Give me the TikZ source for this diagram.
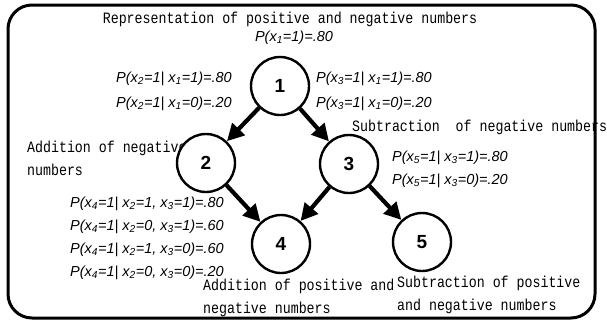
\documentclass[tikz,border=0pt]{standalone}
\usepackage{fontspec}
\setmainfont{Liberation Mono}
\newfontfamily\capfont[FakeStretch=0.84]{Liberation Mono}
\newfontfamily\probfont{Liberation Sans}
\usetikzlibrary{arrows.meta}
\newcommand{\xs}[1]{x\textsubscript{#1}}

\begin{document}
\begin{tikzpicture}[x=1pt, y=-1pt,
    state/.style={circle, minimum size=58pt, inner sep=0pt, draw=black, line width=2.4pt, fill=white, font=\probfont\fontsize{19}{19}\selectfont\bfseries},
    prob/.style={anchor=west, inner sep=0pt, font=\probfont\itshape\fontsize{14.5}{16}\selectfont},
    caption/.style={anchor=west, inner sep=0pt, align=left, font=\capfont\fontsize{15.8}{23}\selectfont},
    arrow/.style={line width=4.2pt, -{Triangle[length=17pt, width=17pt]}},
    frame/.style={line width=3pt, rounded corners=24pt}
]
    \useasboundingbox (0,0) rectangle (607,324);

    % Texts first, the circles are filled white and lie on top
    \node[caption, anchor=center] (t_rep) at (290,19) {Representation of positive and negative numbers};
    \node[prob, anchor=center] (p_one) at (294,38) {P(\xs{1}=1)=.80};

    \node[prob, anchor=east] (p_two_a) at (232,79) {P(\xs{2}=1| \xs{1}=1)=.80};
    \node[prob, anchor=east] (p_two_b) at (232,104) {P(\xs{2}=1| \xs{1}=0)=.20};
    \node[prob] (p_three_a) at (316,79) {P(\xs{3}=1| \xs{1}=1)=.80};
    \node[prob] (p_three_b) at (316,104) {P(\xs{3}=1| \xs{1}=0)=.20};

    \node[caption] (t_addneg) at (27,158) {Addition of negative\\numbers};
    \node[caption] (t_subneg) at (352,127) {Subtraction\ \ of negative numbers};

    \node[prob] (p_five_a) at (392,158) {P(\xs{5}=1| \xs{3}=1)=.80};
    \node[prob] (p_five_b) at (392,181) {P(\xs{5}=1| \xs{3}=0)=.20};

    % Conditional table of node 4
    \node[prob] (p_four_a) at (70,204) {P(\xs{4}=1| \xs{2}=1, \xs{3}=1)=.80};
    \node[prob] (p_four_b) at (70,227) {P(\xs{4}=1| \xs{2}=0, \xs{3}=1)=.60};
    \node[prob] (p_four_c) at (70,250) {P(\xs{4}=1| \xs{2}=1, \xs{3}=0)=.60};
    \node[prob] (p_four_d) at (70,273) {P(\xs{4}=1| \xs{2}=0, \xs{3}=0)=.20};

    \node[caption] (t_addpos) at (203,298) {Addition of positive and\\negative numbers};
    \node[caption] (t_subpos) at (397,295) {Subtraction of positive\\and negative numbers};

    % The five states
    \node[state] (n1) at (280,86) {1};
    \node[state] (n2) at (206,163) {2};
    \node[state] (n3) at (349,164) {3};
    \node[state] (n4) at (281,244) {4};
    \node[state] (n5) at (422,242) {5};

    \draw[arrow] (n1) -- (n2);
    \draw[arrow] (n1) -- (n3);
    \draw[arrow] (n2) -- (n4);
    \draw[arrow] (n3) -- (n4);
    \draw[arrow] (n3) -- (n5);

    % Frame round everything
    \draw[frame] (8,5) rectangle (595,318);

\end{tikzpicture}
\end{document}
